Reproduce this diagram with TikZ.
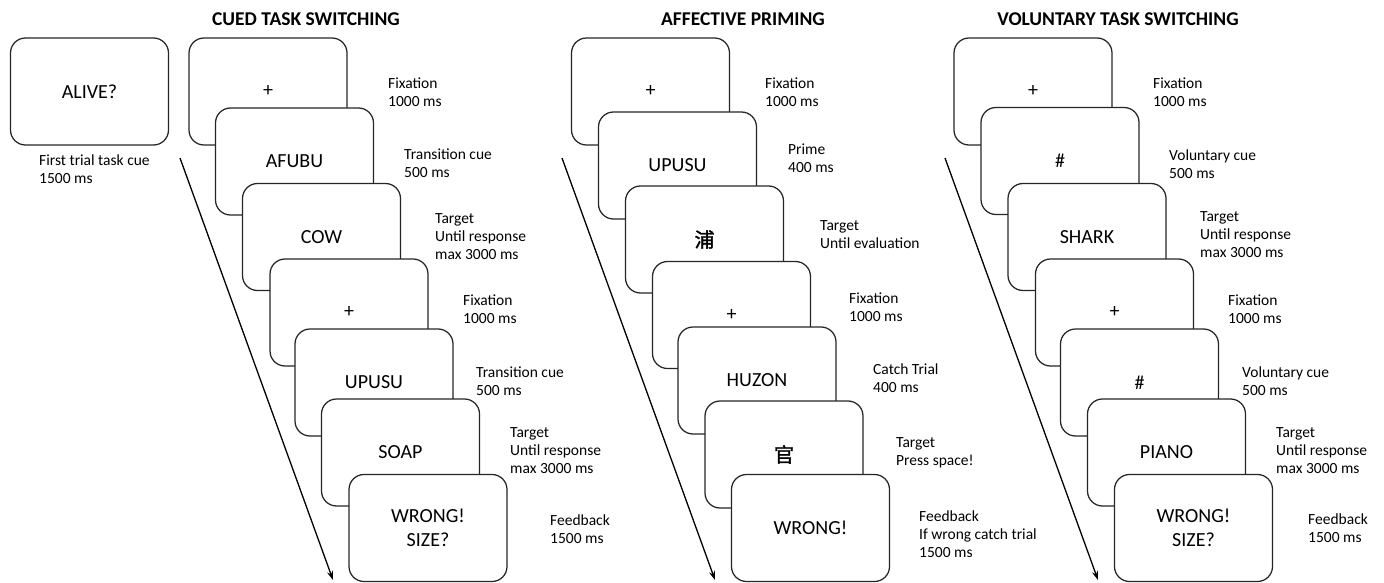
\documentclass[tikz,border=0pt]{standalone}
\usepackage{fontspec}
\setmainfont{Carlito}
\newfontfamily\cjk{Noto Sans CJK SC}[FakeBold=1.5]
\usetikzlibrary{arrows.meta}
\tikzset{
  scr/.style={draw=black!85, line width=1.25pt, fill=white, rounded corners=15pt,
    minimum width=158pt, minimum height=107pt, inner sep=0pt,
    font=\fontsize{20}{24}\selectfont, align=center},
  lab/.style={anchor=west, inner sep=0pt, align=left, font=\fontsize{15.5}{18}\selectfont},
  ttl/.style={inner sep=0pt, font=\fontsize{19.5}{23}\selectfont\bfseries},
  tarrow/.style={line width=1.3pt, -{Stealth[length=9pt,width=6pt]}}
}
\begin{document}
\begin{tikzpicture}[x=1pt,y=-1pt]
\useasboundingbox (0,0) rectangle (1384,583);
% titles
\node[ttl] (t1) at (306,19) {CUED TASK SWITCHING};
\node[ttl] (t2) at (743,19) {AFFECTIVE PRIMING};
\node[ttl] (t3) at (1118,19) {VOLUNTARY TASK SWITCHING};
% first trial
\node[scr] (a0) at (89.5,91.5) {ALIVE?};
\node[lab] (la0) at (39,169) {First trial task cue\\1500 ms};
% arrows
\coordinate (ca0) at (180,158); \coordinate (ca1) at (333,580);
\coordinate (cb0) at (562,158); \coordinate (cb1) at (715,580);
\coordinate (cc0) at (945,158); \coordinate (cc1) at (1098,580);
\draw[tarrow] (ca0) -- (ca1);
\draw[tarrow] (cb0) -- (cb1);
\draw[tarrow] (cc0) -- (cc1);
% cued task switching
\node[scr] (c1) at (268,91.5) {+};
\node[scr] (c2) at (294.5,161.5) {AFUBU};
\node[scr] (c3) at (321.5,237) {COW};
\node[scr] (c4) at (349,312.5) {+};
\node[scr] (c5) at (374,382.5) {UPUSU};
\node[scr] (c6) at (400.5,452.5) {SOAP};
\node[scr] (c7) at (428,528) {WRONG!\\SIZE?};
\node[lab] (lc1) at (388,92) {Fixation\\1000 ms};
\node[lab] (lc2) at (404,163) {Transition cue\\500 ms};
\node[lab] (lc3) at (435,237) {Target\\Until response\\max 3000 ms};
\node[lab] (lc4) at (463,309) {Fixation\\1000 ms};
\node[lab] (lc5) at (476,381) {Transition cue\\500 ms};
\node[lab] (lc6) at (510,451) {Target\\Until response\\max 3000 ms};
\node[lab] (lc7) at (550,529) {Feedback\\1500 ms};
% affective priming
\node[scr] (p1) at (650.5,91.5) {+};
\node[scr] (p2) at (677.5,165.5) {UPUSU};
\node[scr] (p3) at (704.5,239.5) {\cjk 浦};
\node[scr] (p4) at (731.5,315) {+};
\node[scr] (p5) at (757,380.5) {HUZON};
\node[scr] (p6) at (784,454.5) {\cjk 官};
\node[scr] (p7) at (810.5,528) {WRONG!};
\node[lab] (lp1) at (765,92) {Fixation\\1000 ms};
\node[lab] (lp2) at (788,158.5) {Prime\\400 ms};
\node[lab] (lp3) at (820,235) {Target\\Until evaluation};
\node[lab] (lp4) at (849,307) {Fixation\\1000 ms};
\node[lab] (lp5) at (873,378) {Catch Trial\\400 ms};
\node[lab] (lp6) at (896,453) {Target\\Press space!};
\node[lab] (lp7) at (919,534) {Feedback\\If wrong catch trial\\1500 ms};
% voluntary task switching
\node[scr] (v1) at (1033,91.5) {+};
\node[scr] (v2) at (1060,161) {\#};
\node[scr] (v3) at (1087,237) {SHARK};
\node[scr] (v4) at (1114.5,312.5) {+};
\node[scr] (v5) at (1139.5,382.5) {\#};
\node[scr] (v6) at (1166.5,452.5) {PIANO};
\node[scr] (v7) at (1193.5,528) {WRONG!\\SIZE?};
\node[lab] (lv1) at (1153,92) {Fixation\\1000 ms};
\node[lab] (lv2) at (1169,164) {Voluntary cue\\500 ms};
\node[lab] (lv3) at (1200,235) {Target\\Until response\\max 3000 ms};
\node[lab] (lv4) at (1228,309) {Fixation\\1000 ms};
\node[lab] (lv5) at (1242,381) {Voluntary cue\\500 ms};
\node[lab] (lv6) at (1276,451) {Target\\Until response\\max 3000 ms};
\node[lab] (lv7) at (1308,528) {Feedback\\1500 ms};
\end{tikzpicture}
\end{document}
